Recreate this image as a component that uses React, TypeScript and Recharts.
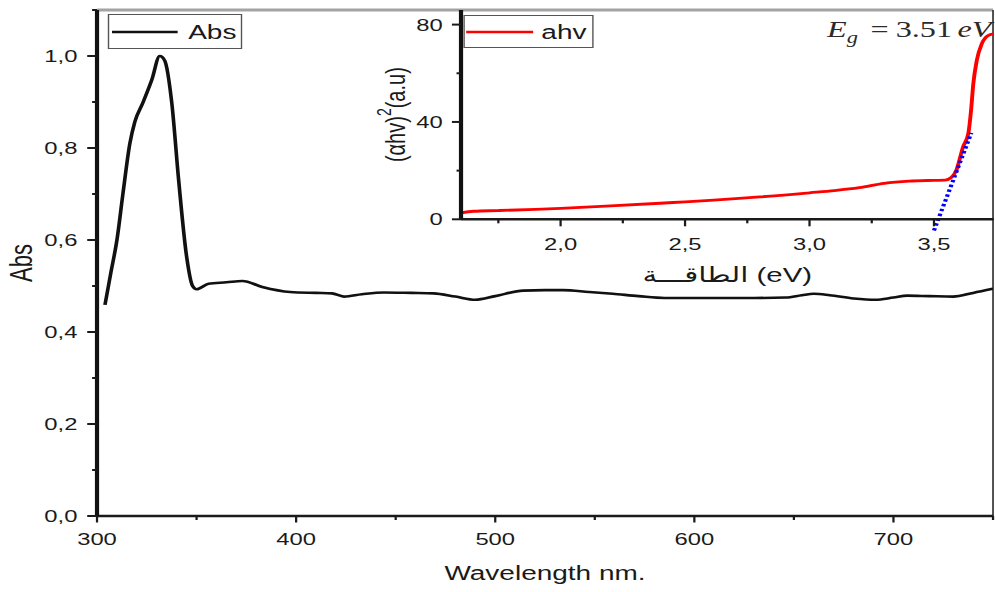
import { LineChart, Line, XAxis, YAxis, Legend, ReferenceLine } from "recharts";

// the source figure is stretched sideways, so the whole chart is drawn narrow and scaled in x
const STRETCH = 1.4;
const SANS = "'Liberation Sans', Arial, 'DejaVu Sans', sans-serif";
const SERIF = "'Liberation Serif', 'Times New Roman', serif";
const INK = "#1a1a1a";

// absorbance spectrum
const wavelengths = [
  304, 307, 310, 313, 316.5, 319, 323, 327.5, 331.5, 334, 337.5, 341, 345, 348, 350, 356, 365, 373,
  383, 397, 410, 418, 424, 433, 444, 458, 469, 480, 490, 500, 514, 525, 534, 547, 559, 572, 585, 600,
  615, 630, 646, 654, 660, 668, 680, 691, 700, 707, 718, 730, 740, 750,
];
const absorbance = [
  0.459, 0.53, 0.6, 0.7, 0.81, 0.857, 0.898, 0.948, 1.0, 0.99, 0.9, 0.73, 0.564, 0.5, 0.493, 0.505,
  0.508, 0.511, 0.498, 0.487, 0.485, 0.484, 0.477, 0.482, 0.486, 0.485, 0.484, 0.477, 0.47, 0.478,
  0.49, 0.491, 0.491, 0.487, 0.483, 0.478, 0.474, 0.474, 0.474, 0.474, 0.475, 0.48, 0.483, 0.48,
  0.473, 0.47, 0.475, 0.479, 0.478, 0.477, 0.485, 0.494,
];
const wlTicks = [300, 350, 400, 450, 500, 550, 600, 650, 700, 750];
const absTicks = [0, 0.1, 0.2, 0.3, 0.4, 0.5, 0.6, 0.7, 0.8, 0.9, 1.0, 1.1];

// inset: Tauc plot
const photonEnergy = [
  1.6, 1.65, 1.75, 1.9, 2.0, 2.2, 2.4, 2.5, 2.6, 2.8, 3.0, 3.1, 3.2, 3.3, 3.4, 3.5, 3.545, 3.57,
  3.59, 3.617, 3.638, 3.649, 3.658, 3.672, 3.692, 3.718, 3.74,
];
const ahv = [
  2.6, 3.3, 3.6, 4.1, 4.5, 5.5, 6.6, 7.2, 7.8, 9.2, 10.9, 11.8, 13.0, 14.8, 15.7, 16.0, 16.1, 17.2,
  20.2, 29.8, 35.3, 44.8, 55.7, 65.3, 72.1, 75.5, 76.2,
];
const evTicks = [1.75, 2.0, 2.25, 2.5, 2.75, 3.0, 3.25, 3.5];
const ahvTicks = [0, 20, 40, 60, 80];
// linear fit of the absorption edge, extrapolated below the axis (Eg = 3.51 eV)
const edgeFit = [
  { x: 3.5, y: -4.6 },
  { x: 3.65, y: 35.5 },
];

const comma = (v: number) => v.toFixed(1).replace(".", ",");

type TickSpec = {
  size: number;
  margin: number;
  long: number;
  short: number;
  isMajor: (v: number) => boolean;
  format: (v: number) => string;
};

function makeBottomTick(spec: TickSpec) {
  return function BottomTick(props: any) {
    const { x, y, payload } = props;
    const v = payload.value as number;
    const major = spec.isMajor(v);
    const y0 = y - spec.size - spec.margin;
    return (
      <g>
        <line x1={x} x2={x} y1={y0} y2={y0 + (major ? spec.long : spec.short)} stroke={INK} strokeWidth={1.6} />
        {major && (
          <text x={x} y={y} dy="0.71em" textAnchor="middle" fontFamily={SANS} fontSize={17} fill={INK}>
            {spec.format(v)}
          </text>
        )}
      </g>
    );
  };
}

function makeLeftTick(spec: TickSpec) {
  return function LeftTick(props: any) {
    const { x, y, payload } = props;
    const v = payload.value as number;
    const major = spec.isMajor(v);
    const x0 = x + spec.size + spec.margin;
    return (
      <g>
        <line x1={x0 - (major ? spec.long : spec.short)} x2={x0} y1={y} y2={y} stroke={INK} strokeWidth={2} />
        {major && (
          <text x={x} y={y} dy="0.355em" textAnchor="end" fontFamily={SANS} fontSize={17} fill={INK}>
            {spec.format(v)}
          </text>
        )}
      </g>
    );
  };
}

const wlTick = makeBottomTick({
  size: 7, margin: 10, long: 6.5, short: 4,
  isMajor: (v) => v % 100 === 0,
  format: (v) => String(v),
});
const absTick = makeLeftTick({
  size: 7, margin: 7, long: 7, short: 3.5,
  isMajor: (v) => Math.round(v * 10) % 2 === 0,
  format: comma,
});
const evTick = makeBottomTick({
  size: 7, margin: 12, long: 7, short: 4,
  isMajor: (v) => Math.round(v * 100) % 50 === 0,
  format: comma,
});
const ahvTick = makeLeftTick({
  size: 6.5, margin: 6.5, long: 6.5, short: 3.2,
  isMajor: (v) => v % 40 === 0,
  format: (v) => String(v),
});

function LegendBox(props: any) {
  const { payload, boxWidth, boxHeight, lineStart, lineLen, gap } = props;
  const item = (payload || [])[0];
  if (!item) return null;
  return (
    <div
      style={{
        boxSizing: "border-box",
        width: boxWidth,
        height: boxHeight,
        border: "1px solid #555",
        background: "#fff",
        display: "flex",
        alignItems: "center",
      }}
    >
      <svg width={lineStart + lineLen} height={10} style={{ flex: "none" }}>
        <line x1={lineStart} x2={lineStart + lineLen} y1={5} y2={5} stroke={item.color} strokeWidth={2.6} />
      </svg>
      <span style={{ marginLeft: gap, fontFamily: SANS, fontSize: 20, color: INK, lineHeight: 1 }}>
        {item.value}
      </span>
    </div>
  );
}

function rotatedLabel(offsetX: number, fontSize: number, content: any) {
  return (props: any) => {
    const vb = props.viewBox || {};
    const cx = (vb.x ?? 0) + offsetX;
    const cy = (vb.y ?? 0) + (vb.height ?? 0) / 2;
    return (
      <text
        x={cx}
        y={cy}
        transform={`rotate(-90 ${cx} ${cy})`}
        textAnchor="middle"
        dominantBaseline="central"
        fontFamily={SANS}
        fontSize={fontSize}
        fill={INK}
      >
        {content}
      </text>
    );
  };
}

function bottomLabel(baseline: number, fontSize: number, content: string) {
  return (props: any) => {
    const vb = props.viewBox || {};
    const cx = (vb.x ?? 0) + (vb.width ?? 0) / 2;
    return (
      <text x={cx} y={(vb.y ?? 0) + baseline} textAnchor="middle" fontFamily={SANS} fontSize={fontSize} fill={INK}>
        {content}
      </text>
    );
  };
}

export default function App() {
  const spectrum = wavelengths.map((wl, i) => ({ wl, abs: absorbance[i] }));
  const tauc = photonEnergy.map((ev, i) => ({ ev, ahv: ahv[i] }));

  return (
    <div
      style={{
        position: "absolute",
        left: 0,
        top: 0,
        width: 995,
        height: 592,
        overflow: "hidden",
        background: "#fff",
      }}
    >
      <div
        style={{
          position: "relative",
          width: 711,
          height: 592,
          transform: `scaleX(${STRETCH})`,
          transformOrigin: "0 0",
        }}
      >
        <LineChart width={711} height={592} data={spectrum} margin={{ top: 10, right: 1.7, bottom: 0, left: 0 }}>
          <XAxis
            dataKey="wl"
            type="number"
            domain={[300, 750]}
            allowDataOverflow
            ticks={wlTicks}
            interval={0}
            height={76}
            tickSize={7}
            tickMargin={10}
            tickLine={false}
            tick={wlTick}
            axisLine={{ stroke: INK, strokeWidth: 2.6 }}
            label={bottomLabel(64, 20, "Wavelength nm.")}
          />
          <YAxis
            type="number"
            domain={[0, 1.1]}
            allowDataOverflow
            ticks={absTicks}
            interval={0}
            width={69.3}
            tickSize={7}
            tickMargin={7}
            tickLine={false}
            tick={absTick}
            axisLine={{ stroke: "#111", strokeWidth: 3 }}
            label={rotatedLabel(15.7, 22, "Abs")}
          />
          <ReferenceLine y={1.1} stroke="#a3a3a3" strokeWidth={3} />
          <ReferenceLine x={750} stroke="#333" strokeWidth={1.2} />
          <Legend
            layout="horizontal"
            verticalAlign="middle"
            align="center"
            wrapperStyle={{ left: 77.1, top: 14, width: 95.7, height: 35 }}
            content={(p: any) => (
              <LegendBox {...p} boxWidth={95.7} boxHeight={35} lineStart={2} lineLen={47} gap={7.3} />
            )}
          />
          <Line
            dataKey="abs"
            name="Abs"
            type="monotone"
            stroke="#111"
            strokeWidth={2.6}
            dot={false}
            isAnimationActive={false}
          />
        </LineChart>

        <div style={{ position: "absolute", left: 260, top: 0 }}>
          <LineChart width={451} height={300} data={tauc} margin={{ top: 10, right: 1.2, bottom: 0, left: 0 }}>
            <XAxis
              dataKey="ev"
              type="number"
              domain={[1.6, 3.74]}
              allowDataOverflow
              ticks={evTicks}
              interval={0}
              height={80.7}
              tickSize={7}
              tickMargin={12}
              tickLine={false}
              tick={evTick}
              axisLine={{ stroke: INK, strokeWidth: 2.6 }}
              label={bottomLabel(62.7, 21, "الطاقـــة (eV)")}
            />
            <YAxis
              type="number"
              domain={[0, 86]}
              allowDataOverflow
              ticks={ahvTicks}
              interval={0}
              width={69.3}
              tickSize={6.5}
              tickMargin={6.5}
              tickLine={false}
              tick={ahvTick}
              axisLine={{ stroke: "#111", strokeWidth: 3 }}
              label={rotatedLabel(
                22.1,
                20,
                <>
                  (αhv)
                  <tspan dy={-8} fontSize={14}>2</tspan>
                  <tspan dy={8}>(a.u)</tspan>
                </>
              )}
            />
            <Legend
              layout="horizontal"
              verticalAlign="middle"
              align="center"
              wrapperStyle={{ left: 71.1, top: 15, width: 93, height: 33 }}
              content={(p: any) => (
                <LegendBox {...p} boxWidth={93} boxHeight={33} lineStart={1} lineLen={48} gap={5.6} />
              )}
            />
            <Line
              dataKey="ahv"
              name="ahv"
              type="monotone"
              stroke="#ff0000"
              strokeWidth={2.8}
              dot={false}
              isAnimationActive={false}
            />
            <ReferenceLine
              segment={edgeFit}
              ifOverflow="visible"
              stroke="#0000ff"
              strokeWidth={3}
              strokeDasharray="2.5 2.5"
            />
          </LineChart>
        </div>

        <div
          style={{
            position: "absolute",
            left: 590.7,
            top: 17.7,
            fontFamily: SERIF,
            fontSize: 23,
            lineHeight: "23px",
            color: "#2b2b2b",
            whiteSpace: "nowrap",
          }}
        >
          <i>E</i>
          <i style={{ fontSize: 16, position: "relative", top: 6 }}>g</i>
          <span style={{ marginLeft: 9 }}>=</span>
          <span style={{ marginLeft: 5 }}>3.51</span>
          <i style={{ marginLeft: 4 }}>eV</i>
        </div>
      </div>
    </div>
  );
}
